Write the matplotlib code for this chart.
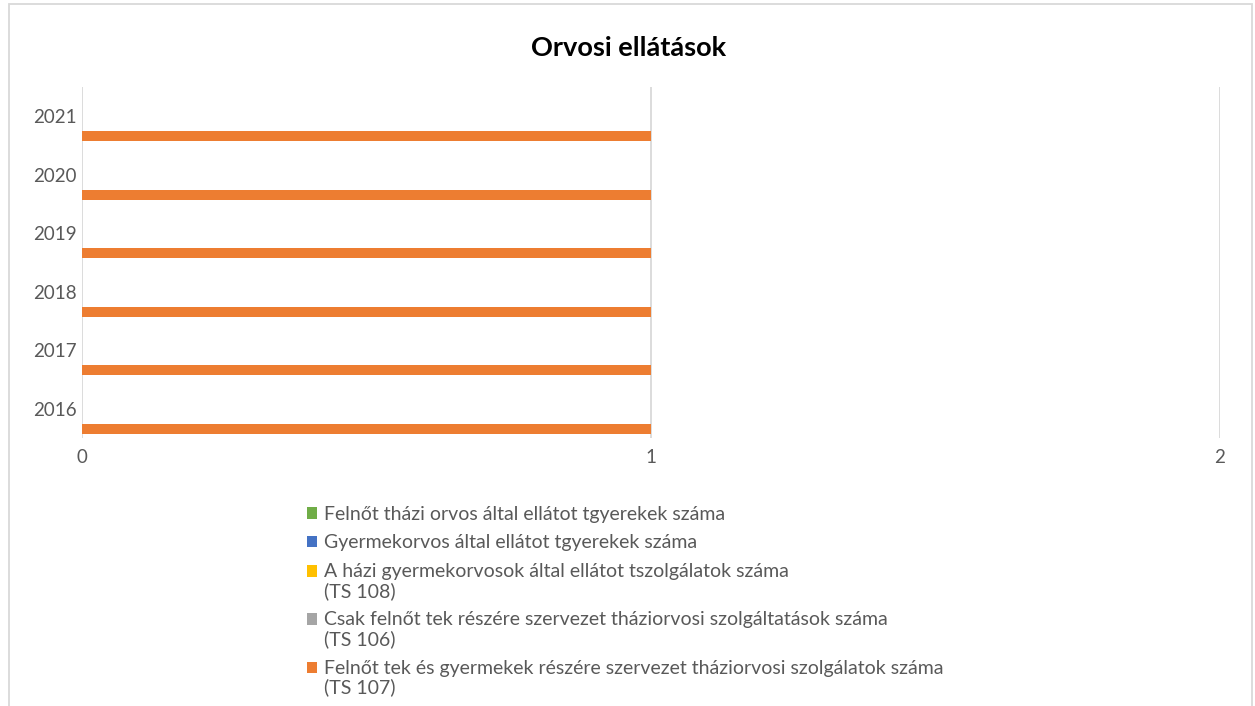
import numpy as np
import matplotlib.pyplot as plt
from matplotlib.patches import Rectangle

plt.rcParams['font.family'] = ['Lato', 'DejaVu Sans']

# ------------------------------
# DATA
# ------------------------------
years = ["2016", "2017", "2018", "2019", "2020", "2021"]

series_labels = [
    "Felnőt tek és gyermekek részére szervezet tháziorvosi szolgálatok száma\n(TS 107)",
    "Csak felnőt tek részére szervezet tháziorvosi szolgáltatások száma\n(TS 106)",
    "A házi gyermekorvosok által ellátot tszolgálatok száma\n(TS 108)",
    "Gyermekorvos által ellátot tgyerekek száma",
    "Felnőt tházi orvos által ellátot tgyerekek száma",
]
series_colors = ["#ED7D31", "#A5A5A5", "#FFC000", "#4472C4", "#70AD47"]

ts107 = [1, 1, 1, 1, 1, 1]
ts106 = [0, 0, 0, 0, 0, 0]
ts108 = [0, 0, 0, 0, 0, 0]
gyermekorvos = [0, 0, 0, 0, 0, 0]
felnott_orvos = [0, 0, 0, 0, 0, 0]
series_values = [ts107, ts106, ts108, gyermekorvos, felnott_orvos]

x_ticks = [0, 1, 2]

# ------------------------------
# PLOT
# ------------------------------
W, H = 1255, 706
fig = plt.figure(figsize=(W / 100, H / 100), dpi=100)
ax = fig.add_axes([82 / W, 1 - 438 / H, (1220 - 82) / W, (438 - 87) / H])

y = np.arange(len(years))
bar_h = 0.171
handles = []
for k, (vals, col, lab) in enumerate(zip(series_values, series_colors, series_labels)):
    b = ax.barh(y + (k - 2) * bar_h, vals, height=bar_h, color=col, label=lab, linewidth=0)
    handles.append(b)

ax.set_xlim(0, 2)
ax.set_ylim(-0.5, len(years) - 0.5)
ax.set_xticks(x_ticks)
ax.set_xticklabels([str(t) for t in x_ticks])
ax.set_yticks(y)
ax.set_yticklabels(years)
ax.tick_params(length=0, colors="#595959", labelsize=13.5)
ax.tick_params(axis="x", pad=8)
ax.tick_params(axis="y", pad=4)
for s in ax.spines.values():
    s.set_visible(False)
ax.grid(axis="x", color="#D9D9D9", linewidth=1.3)
ax.set_axisbelow(True)

fig.text(629 / W, 1 - 48 / H, "Orvosi ellátások", ha="center", va="center",
         fontsize=19.5, fontweight="bold", color="black")

leg = fig.legend(handles[::-1], series_labels[::-1], loc="upper left",
                 bbox_to_anchor=(299 / W, 1 - 498 / H), frameon=False,
                 fontsize=14, labelcolor="#595959", handlelength=0.55, handleheight=0.55,
                 handletextpad=0.35, labelspacing=0.6, borderaxespad=0)
for t, p in zip(leg.get_texts(), leg.legend_handles):
    t.set_linespacing(1.12)
    # square sits on the first line of a two-line label
    if "\n" in t.get_text():
        p.set_y(p.get_y() + 7.8)

fig.patches.append(Rectangle((9 / W, -0.05), (1252 - 9) / W, 1.05 - 4 / H,
                             transform=fig.transFigure, fill=False,
                             edgecolor="#D9D9D9", linewidth=1.3))

fig.savefig("out.png", dpi=100)
